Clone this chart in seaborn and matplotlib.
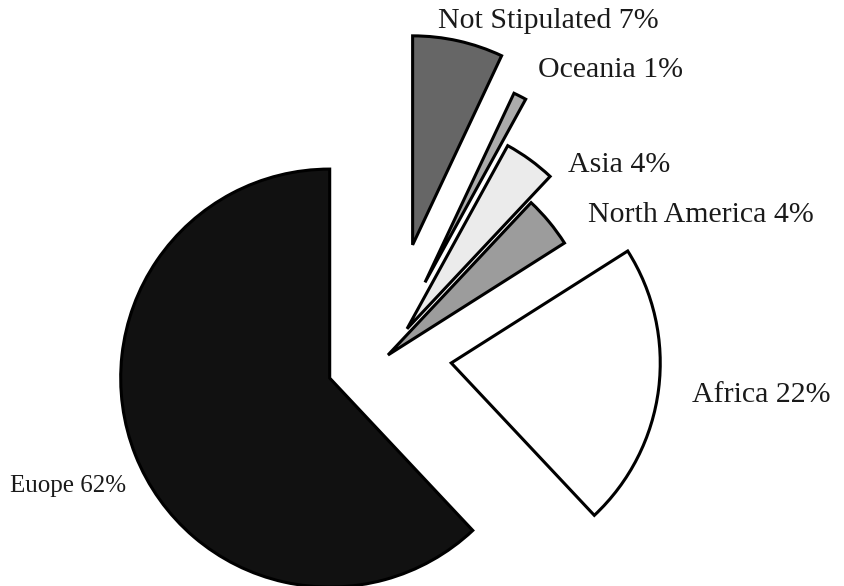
import matplotlib
matplotlib.use("Agg")
import matplotlib.pyplot as plt
import seaborn as sns

sns.set_style("white")
plt.rcParams['font.family'] = ['Liberation Serif', 'DejaVu Serif']

# data
regions = ["Euope", "Africa", "North America", "Asia", "Oceania", "Not Stipulated"]
shares = [62, 22, 4, 4, 1, 7]
explode = [0.30, 0.305, 0.0, 0.155, 0.39, 0.54]
colors = ["#111111", "#ffffff", "#9c9c9c", "#ebebeb", "#ababab", "#666666"]

# label placement (figure pixels, left / baseline) and sizes
label_pos = [(10, 492), (692, 402), (588, 222), (568, 172), (538, 77), (438, 28)]
label_size = [18, 21.5, 21.5, 21.5, 21.5, 21.5]

W, H = 845, 586
cx, cy, r = 388, 355, 209

fig = plt.figure(figsize=(W / 100, H / 100), dpi=100)
ax = fig.add_axes([0, 0, 1, 1])

ax.pie(shares, explode=explode, colors=colors, startangle=90,
       counterclock=True,
       wedgeprops={'edgecolor': 'black', 'linewidth': 2.2, 'joinstyle': 'miter'})

ax.set_xlim(-cx / r, (W - cx) / r)
ax.set_ylim((cy - H) / r, cy / r)
ax.set_aspect('equal', adjustable='box')
ax.axis('off')

for name, val, (px, py), fs in zip(regions, shares, label_pos, label_size):
    fig.text(px / W, 1 - py / H, f"{name} {val}%", fontsize=fs,
             ha='left', va='baseline', color='#1a1a1a')

plt.savefig("out.png", dpi=100)
plt.close()
